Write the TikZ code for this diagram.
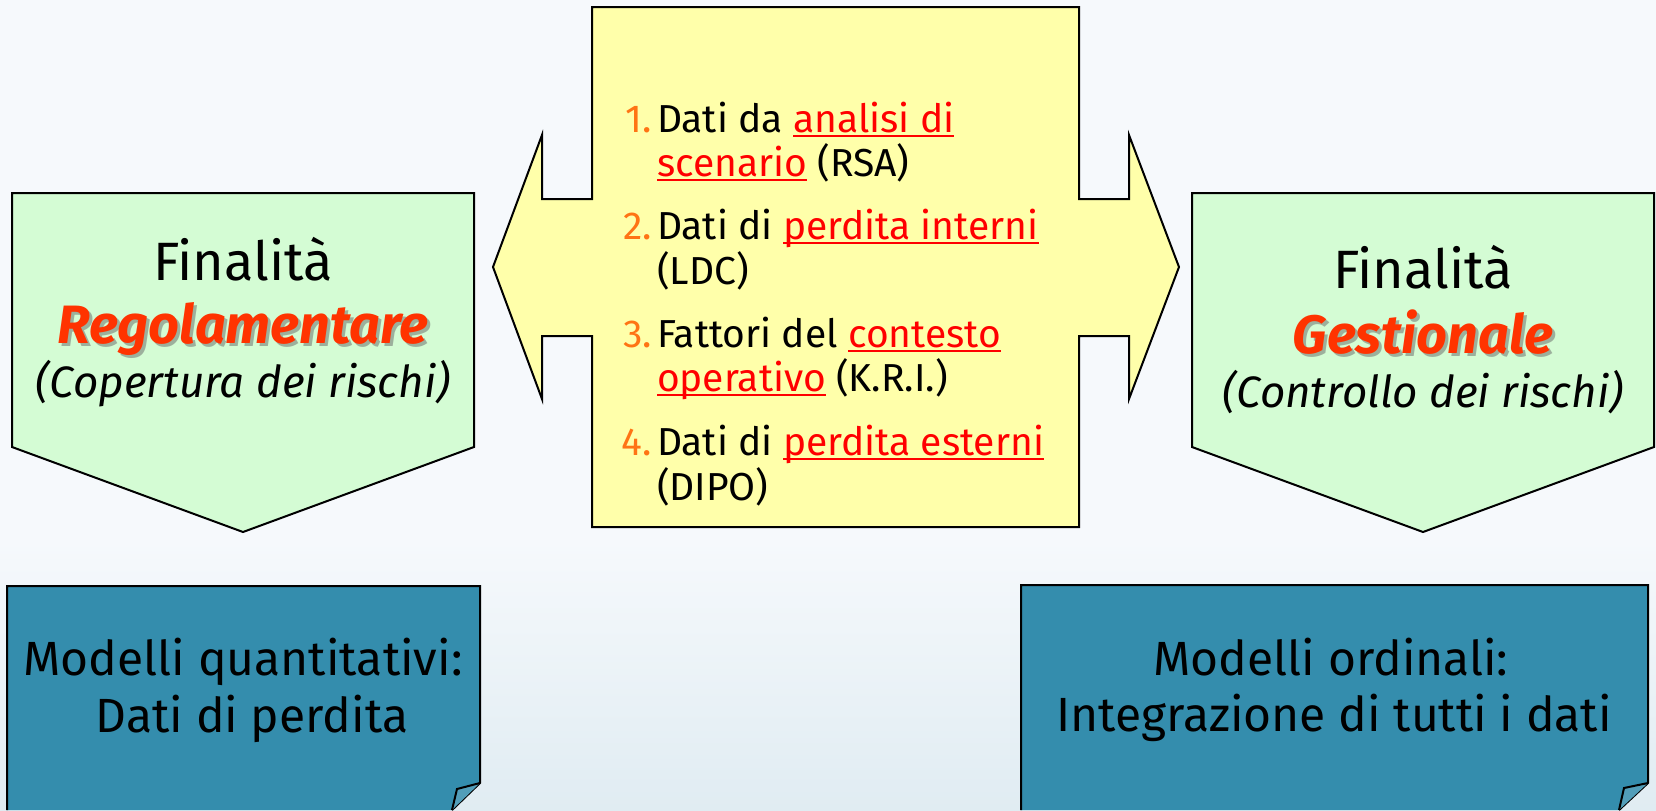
\documentclass[tikz,border=0pt]{standalone}
\usepackage{fontspec}
\setmainfont{Fira Sans}
\usepackage{tikz}

\definecolor{bgtop}{HTML}{F6F9FC}
\definecolor{bgbot}{HTML}{E0ECF2}
\definecolor{boxyellow}{HTML}{FFFFAA}
\definecolor{boxgreen}{HTML}{D4FCD4}
\definecolor{boxteal}{HTML}{348DAD}
\definecolor{numorange}{HTML}{FF7414}
\definecolor{linkred}{HTML}{FF0000}
\definecolor{keyred}{HTML}{FF3300}

\newcommand{\lnk}[1]{{\color{linkred}\setbox0\hbox{#1}\rlap{\rule[-2.6pt]{\wd0}{1.3pt}}\box0}}

\begin{document}
\begin{tikzpicture}[
		x=0.5pt, y=-0.5pt,
		every node/.style={inner sep=0pt, outer sep=0pt},
		outline/.style={draw=black, line width=1pt, line join=miter},
		listnum/.style={anchor=base east, text=numorange, font=\fontsize{19.5}{23}\selectfont},
		listtxt/.style={anchor=base west, font=\fontsize{19.5}{23}\selectfont},
		aim/.style={anchor=base, font=\fontsize{27}{32}\selectfont},
		aimkey/.style={anchor=base, font=\fontsize{27}{32}\selectfont\bfseries\itshape},
		aimsub/.style={anchor=base, font=\fontsize{22}{26}\selectfont\itshape},
		model/.style={anchor=base, font=\fontsize{24}{28}\selectfont}
	]
  \useasboundingbox (0,0) rectangle (1656,810);
  \fill[bgtop] (0,0) rectangle (1656,810);
  \shade[top color=bgtop, bottom color=bgbot] (0,540) rectangle (1656,810);

  % sources in the middle, with the two arrow heads
  \filldraw[outline, fill=boxyellow] (592,7) -- (1079,7) -- (1079,199) -- (1129,199) -- (1129,135)
    -- (1179,267) -- (1129,399) -- (1129,336) -- (1079,336) -- (1079,527) -- (592,527)
    -- (592,336) -- (542,336) -- (542,399) -- (493,267) -- (542,135) -- (542,199) -- (592,199) -- cycle;

  \node (n1) [listnum] at (652,132) {1.};
  \node (src1a) [listtxt] at (657,132) {Dati da \lnk{analisi di}};
  \node (src1b) [listtxt] at (657,176) {\lnk{scenario} (RSA)};
  \node (n2) [listnum] at (652,239) {2.};
  \node (src2a) [listtxt] at (657,239) {Dati di \lnk{perdita interni}};
  \node (src2b) [listtxt] at (657,284) {(LDC)};
  \node (n3) [listnum] at (652,347) {3.};
  \node (src3a) [listtxt] at (657,347) {Fattori del \lnk{contesto}};
  \node (src3b) [listtxt] at (657,391) {\lnk{operativo} (K.R.I.)};
  \node (n4) [listnum] at (652,455) {4.};
  \node (src4a) [listtxt] at (657,455) {Dati di \lnk{perdita esterni}};
  \node (src4b) [listtxt] at (657,500) {(DIPO)};

  % the two aims
  \filldraw[outline, fill=boxgreen] (12,193) -- (474,193) -- (474,447) -- (243,532) -- (12,447) -- cycle;
  \node (reg_a) [aim] at (243,280) {Finalità};
  \node (reg_s) [aimkey, text=black!60, opacity=0.5] at (246,346) {Regolamentare};
  \node (reg_k) [aimkey, text=keyred] at (243,343) {Regolamentare};
  \node (reg_c) [aimsub] at (243,397) {(Copertura dei rischi)};

  \filldraw[outline, fill=boxgreen] (1192,193) -- (1654,193) -- (1654,447) -- (1423,532) -- (1192,447) -- cycle;
  \node (ges_a) [aim] at (1423,288) {Finalità};
  \node (ges_s) [aimkey, text=black!60, opacity=0.5] at (1426,356) {Gestionale};
  \node (ges_k) [aimkey, text=keyred] at (1423,353) {Gestionale};
  \node (ges_c) [aimsub] at (1423,407) {(Controllo dei rischi)};

  % the two models, folded at the corner
  \fill[boxteal] (7,810) -- (7,586) -- (480,586) -- (480,783) -- (452,810) -- cycle;
  \draw[outline] (7,810) -- (7,586) -- (480,586) -- (480,783) -- (452,810);
  \filldraw[outline, fill=boxteal!85!white] (452,810) -- (457,789) -- (480,783);
  \node (quant_a) [model] at (243,675) {Modelli quantitativi:};
  \node (quant_b) [model] at (252,732) {Dati di perdita};

  \fill[boxteal] (1021,810) -- (1021,585) -- (1648,585) -- (1648,783) -- (1619,810) -- cycle;
  \draw[outline] (1021,810) -- (1021,585) -- (1648,585) -- (1648,783) -- (1619,810);
  \filldraw[outline, fill=boxteal!85!white] (1619,810) -- (1624,788) -- (1648,783);
  \node (ord_a) [model] at (1331,675) {Modelli ordinali:};
  \node (ord_b) [model] at (1334,731) {Integrazione di tutti i dati};
\end{tikzpicture}
\end{document}
